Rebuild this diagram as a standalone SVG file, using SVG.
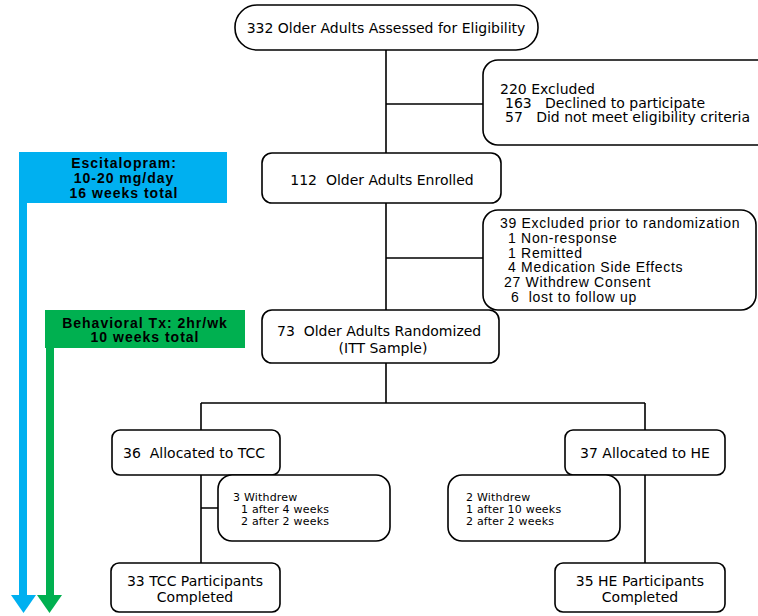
<svg xmlns="http://www.w3.org/2000/svg" width="758" height="616" viewBox="0 0 758 616">
<defs>
<style>
.box{fill:#fff;stroke:#000;stroke-width:1.6}
.ln{fill:none;stroke:#000;stroke-width:1.6}
.t{font-family:"DejaVu Sans",Verdana,sans-serif;font-size:14px;fill:#000}
.ts{font-family:"DejaVu Sans",Verdana,sans-serif;font-size:11px;letter-spacing:0.2px;fill:#000}
.ta{font-family:"Liberation Sans",Arial,sans-serif;font-size:14px;letter-spacing:0.7px;fill:#000}
.tb{font-family:"Liberation Sans",Arial,sans-serif;font-size:14px;font-weight:bold;letter-spacing:1px;fill:#000}
.c{text-anchor:middle}
</style>
</defs>
<g id="connectors">
<path class="ln" d="M386 50V153M386 104H483M386 203V310M386 258H483M386 363V403M201 403H645M201 403V430M645 403V430M201 475V563M201 508H218M645 475V563"/>
</g>
<g id="escitalopram">
<rect x="19" y="152" width="208" height="51" fill="#00b0f0"/>
<rect x="19" y="203" width="8" height="393" fill="#00b0f0"/>
<polygon points="11,595 36,595 23.5,613" fill="#00b0f0"/>
<text class="tb c" x="124" y="168">Escitalopram:</text>
<text class="tb c" x="124" y="183">10-20 mg/day</text>
<text class="tb c" x="124" y="198">16 weeks total</text>
</g>
<g id="behavioral">
<rect x="45" y="310" width="200" height="38" fill="#00b050"/>
<rect x="46" y="348" width="8" height="248" fill="#00b050"/>
<polygon points="37,595 62,595 49.5,613" fill="#00b050"/>
<text class="tb c" x="145" y="328">Behavioral Tx: 2hr/wk</text>
<text class="tb c" x="145" y="342">10 weeks total</text>
</g>
<g id="assessed">
<rect class="box" x="235" y="5" width="303" height="45" rx="22" ry="22"/>
<text class="t c" x="386" y="33">332 Older Adults Assessed for Eligibility</text>
</g>
<g id="excluded1">
<rect class="box" x="483" y="60" width="290" height="85" rx="15" ry="15"/>
<text class="t" x="500" y="94">220 Excluded</text>
<text class="t" x="505" y="108" xml:space="preserve">163   Declined to participate</text>
<text class="t" x="505" y="122" xml:space="preserve">57   Did not meet eligibility criteria</text>
</g>
<g id="enrolled">
<rect class="box" x="262" y="153" width="239" height="50" rx="10" ry="10"/>
<text class="t c" x="382" y="185" xml:space="preserve">112  Older Adults Enrolled</text>
</g>
<g id="excluded2">
<rect class="box" x="483" y="210" width="273" height="100" rx="15" ry="15"/>
<text class="ta" x="500" y="228">39 Excluded prior to randomization</text>
<text class="ta" x="508" y="243">1 Non-response</text>
<text class="ta" x="508" y="258">1 Remitted</text>
<text class="ta" x="508" y="272">4 Medication Side Effects</text>
<text class="ta" x="504" y="287">27 Withdrew Consent</text>
<text class="ta" x="511" y="302" xml:space="preserve">6  lost to follow up</text>
</g>
<g id="randomized">
<rect class="box" x="262" y="310" width="237" height="53" rx="10" ry="10"/>
<text class="t" x="277" y="336" xml:space="preserve">73  Older Adults Randomized</text>
<text class="t c" x="383" y="353">(ITT Sample)</text>
</g>
<g id="tcc">
<rect class="box" x="112" y="430" width="168" height="45" rx="8" ry="8"/>
<text class="t" x="123" y="458" xml:space="preserve">36  Allocated to TCC</text>
</g>
<g id="he">
<rect class="box" x="565" y="430" width="160" height="45" rx="8" ry="8"/>
<text class="t c" x="645" y="458">37 Allocated to HE</text>
</g>
<g id="tcc_withdrew">
<rect class="box" x="218" y="475" width="172" height="66" rx="14" ry="14"/>
<text class="ts" x="233" y="501">3 Withdrew</text>
<text class="ts" x="241" y="513">1 after 4 weeks</text>
<text class="ts" x="241" y="525">2 after 2 weeks</text>
</g>
<g id="he_withdrew">
<rect class="box" x="448" y="475" width="172" height="66" rx="14" ry="14"/>
<text class="ts" x="466" y="501">2 Withdrew</text>
<text class="ts" x="466" y="513">1 after 10 weeks</text>
<text class="ts" x="466" y="525">2 after 2 weeks</text>
</g>
<g id="tcc_completed">
<rect class="box" x="111" y="563" width="169" height="49" rx="8" ry="8"/>
<text class="t c" x="195" y="586">33 TCC Participants</text>
<text class="t c" x="195" y="602">Completed</text>
</g>
<g id="he_completed">
<rect class="box" x="555" y="563" width="170" height="49" rx="8" ry="8"/>
<text class="t c" x="640" y="586">35 HE Participants</text>
<text class="t c" x="640" y="602">Completed</text>
</g>
</svg>
